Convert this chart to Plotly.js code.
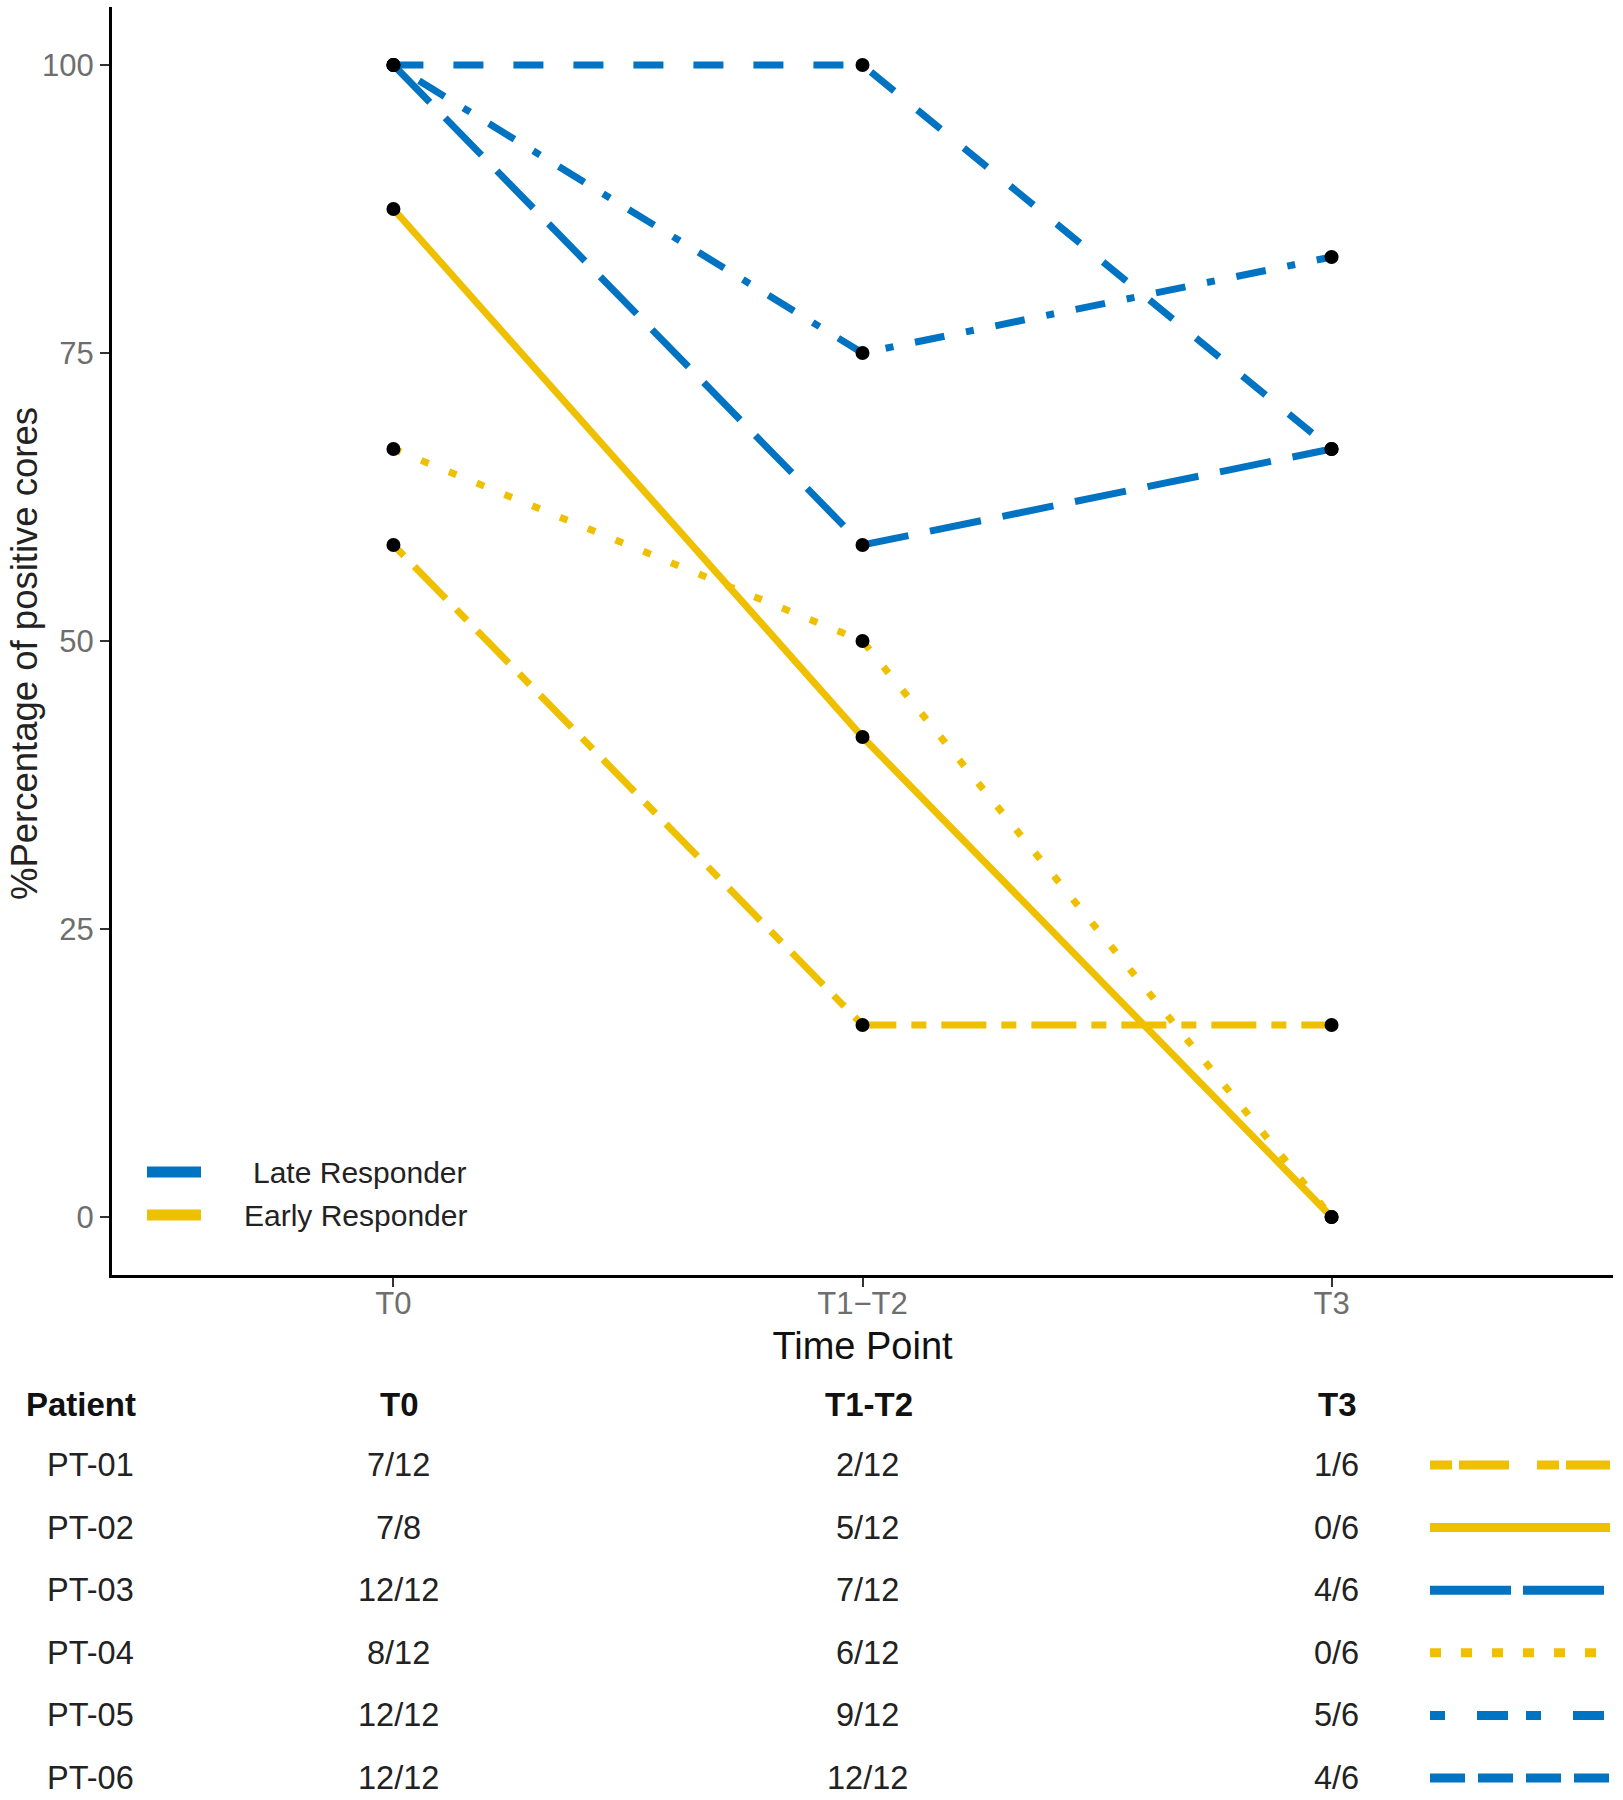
<!DOCTYPE html>
<html>
<head>
<meta charset="utf-8">
<script src="https://cdn.plot.ly/plotly-3.0.1.min.js"></script>
<style>html,body{margin:0;padding:0;background:#fff;}#chart{width:1623px;height:1800px;}</style>
</head>
<body>
<div id="chart"></div>
<script>
// ---------------- DATA ----------------
const timePoints = ['T0', 'T1\u2212T2', 'T3'];
const tableHeaders = ['Patient', 'T0', 'T1-T2', 'T3'];
const patients = ['PT-01', 'PT-02', 'PT-03', 'PT-04', 'PT-05', 'PT-06'];
const positiveCores = [
  [7, 2, 1],
  [7, 5, 0],
  [12, 7, 4],
  [8, 6, 0],
  [12, 9, 5],
  [12, 12, 4]
];
const totalCores = [
  [12, 12, 6],
  [8, 12, 6],
  [12, 12, 6],
  [12, 12, 6],
  [12, 12, 6],
  [12, 12, 6]
];
const responder = ['Early Responder', 'Early Responder', 'Late Responder', 'Early Responder', 'Late Responder', 'Late Responder'];
const legendGroups = ['Late Responder', 'Early Responder'];
const yTitle = '%Percentage of positive cores';
const xTitle = 'Time Point';

// ---------------- STYLES ----------------
const groupColor = { 'Late Responder': '#0073C2', 'Early Responder': '#EFC000' };
// ggplot linetypes: twodash, solid, longdash, dotted, dotdash, dashed
const plotDash = ['15px,15px,45px,15px', 'solid', '52px,22px', '8px,22px', '8px,22px,30px,22px', '30px,30px'];
const sampleDash = ['22px,7px,50px,28px', 'solid', '81px,12px', '11px,20px', '15px,32px,31px,18px', '35px,13px'];
const FONT = 'Liberation Sans, Arial, Helvetica, sans-serif';

const W = 1623, H = 1800, ML = 112, MR = 10;
const PW = W - ML - MR;
const px2x = p => (p - ML) / PW;
const py2y = p => 1 - p / H;

const traces = [];
// lines
patients.forEach((p, i) => {
  traces.push({
    type: 'scatter', mode: 'lines', xaxis: 'x', yaxis: 'y',
    x: timePoints,
    y: positiveCores[i].map((v, j) => v / totalCores[i][j] * 100),
    line: { color: groupColor[responder[i]], width: 7, dash: plotDash[i] },
    showlegend: false, hoverinfo: 'skip', name: p
  });
});
// points on top
patients.forEach((p, i) => {
  traces.push({
    type: 'scatter', mode: 'markers', xaxis: 'x', yaxis: 'y',
    x: timePoints,
    y: positiveCores[i].map((v, j) => v / totalCores[i][j] * 100),
    marker: { color: '#000', size: 14 },
    showlegend: false, hoverinfo: 'skip', name: p
  });
});
// table line samples
patients.forEach((p, i) => {
  traces.push({
    type: 'scatter', mode: 'lines', xaxis: 'x2', yaxis: 'y2',
    x: [0, 1], y: [i, i],
    line: { color: groupColor[responder[i]], width: 9, dash: sampleDash[i] },
    showlegend: false, hoverinfo: 'skip', name: p
  });
});
// legend keys
legendGroups.forEach((g, i) => {
  traces.push({
    type: 'scatter', mode: 'lines', xaxis: 'x3', yaxis: 'y3',
    x: [0, 1], y: [i, i],
    line: { color: groupColor[g], width: 11 },
    showlegend: false, hoverinfo: 'skip', name: g
  });
});

const annotations = [];
// y-axis title
annotations.push({
  xref: 'paper', yref: 'paper', x: px2x(25), y: py2y(654), xanchor: 'center', yanchor: 'middle',
  textangle: -90, text: yTitle, showarrow: false, font: { family: FONT, size: 36.5, color: '#222' }
});
// legend labels
legendGroups.forEach((g, i) => {
  annotations.push({
    xref: 'paper', yref: 'y3', x: px2x(469), y: i, xanchor: 'right', yanchor: 'middle',
    text: g, showarrow: false, font: { family: FONT, size: 30, color: '#222' }
  });
});
// table header
annotations.push({
  xref: 'paper', yref: 'y2', x: px2x(24), y: -0.97, xanchor: 'left', yanchor: 'middle',
  text: '<b>' + tableHeaders[0] + '</b>', showarrow: false, font: { family: FONT, size: 33, color: '#111' }
});
timePoints.forEach((t, j) => {
  annotations.push({
    xref: 'x', yref: 'y2', x: t, y: -0.97, xshift: 6, xanchor: 'center', yanchor: 'middle',
    text: '<b>' + tableHeaders[j + 1] + '</b>', showarrow: false, font: { family: FONT, size: 33, color: '#111' }
  });
});
// table rows
patients.forEach((p, i) => {
  annotations.push({
    xref: 'paper', yref: 'y2', x: px2x(45), y: i, xanchor: 'left', yanchor: 'middle',
    text: p, showarrow: false, font: { family: FONT, size: 32.5, color: '#222' }
  });
  timePoints.forEach((t, j) => {
    annotations.push({
      xref: 'x', yref: 'y2', x: t, y: i, xshift: 5, xanchor: 'center', yanchor: 'middle',
      text: positiveCores[i][j] + '/' + totalCores[i][j], showarrow: false,
      font: { family: FONT, size: 32.5, color: '#222' }
    });
  });
});

const rowH = 62.6, row0 = 1465;
const layout = {
  width: W, height: H,
  margin: { l: ML, r: MR, t: 0, b: 0, pad: 0 },
  paper_bgcolor: '#fff', plot_bgcolor: 'rgba(0,0,0,0)',
  showlegend: false,
  font: { family: FONT },
  xaxis: {
    domain: [0, 1], type: 'category', categoryorder: 'array', categoryarray: timePoints,
    range: [-0.6, 2.6], autorange: false,
    showline: true, linecolor: '#000', linewidth: 3, showgrid: false, zeroline: false,
    ticks: 'outside', ticklen: 9, tickwidth: 2, tickcolor: '#333',
    ticklabelstandoff: -10,
    tickfont: { family: FONT, size: 31, color: '#6e6e6e' },
    title: { text: xTitle, font: { family: FONT, size: 38, color: '#111' }, standoff: 13 }
  },
  yaxis: {
    domain: [py2y(1274.6), py2y(7.4)],
    range: [-5, 105], autorange: false,
    tickvals: [0, 25, 50, 75, 100],
    showline: true, linecolor: '#000', linewidth: 3, showgrid: false, zeroline: false,
    ticks: 'outside', ticklen: 9, tickwidth: 2, tickcolor: '#333',
    tickfont: { family: FONT, size: 31, color: '#6e6e6e' }
  },
  xaxis2: {
    domain: [px2x(1430), px2x(1610)], range: [0, 1], autorange: false,
    visible: false, anchor: 'y2'
  },
  yaxis2: {
    domain: [0, py2y(row0 - 1.5 * rowH)],
    range: [(H - row0) / rowH, -1.5], autorange: false,
    visible: false, anchor: 'x2'
  },
  xaxis3: {
    domain: [px2x(147), px2x(201)], range: [0, 1], autorange: false,
    visible: false, anchor: 'y3'
  },
  yaxis3: {
    domain: [py2y(1236.5), py2y(1150.5)], range: [1.5, -0.5], autorange: false,
    visible: false, anchor: 'x3'
  },
  annotations: annotations
};

Plotly.newPlot('chart', traces, layout, { staticPlot: true, displayModeBar: false });
</script>
</body>
</html>
